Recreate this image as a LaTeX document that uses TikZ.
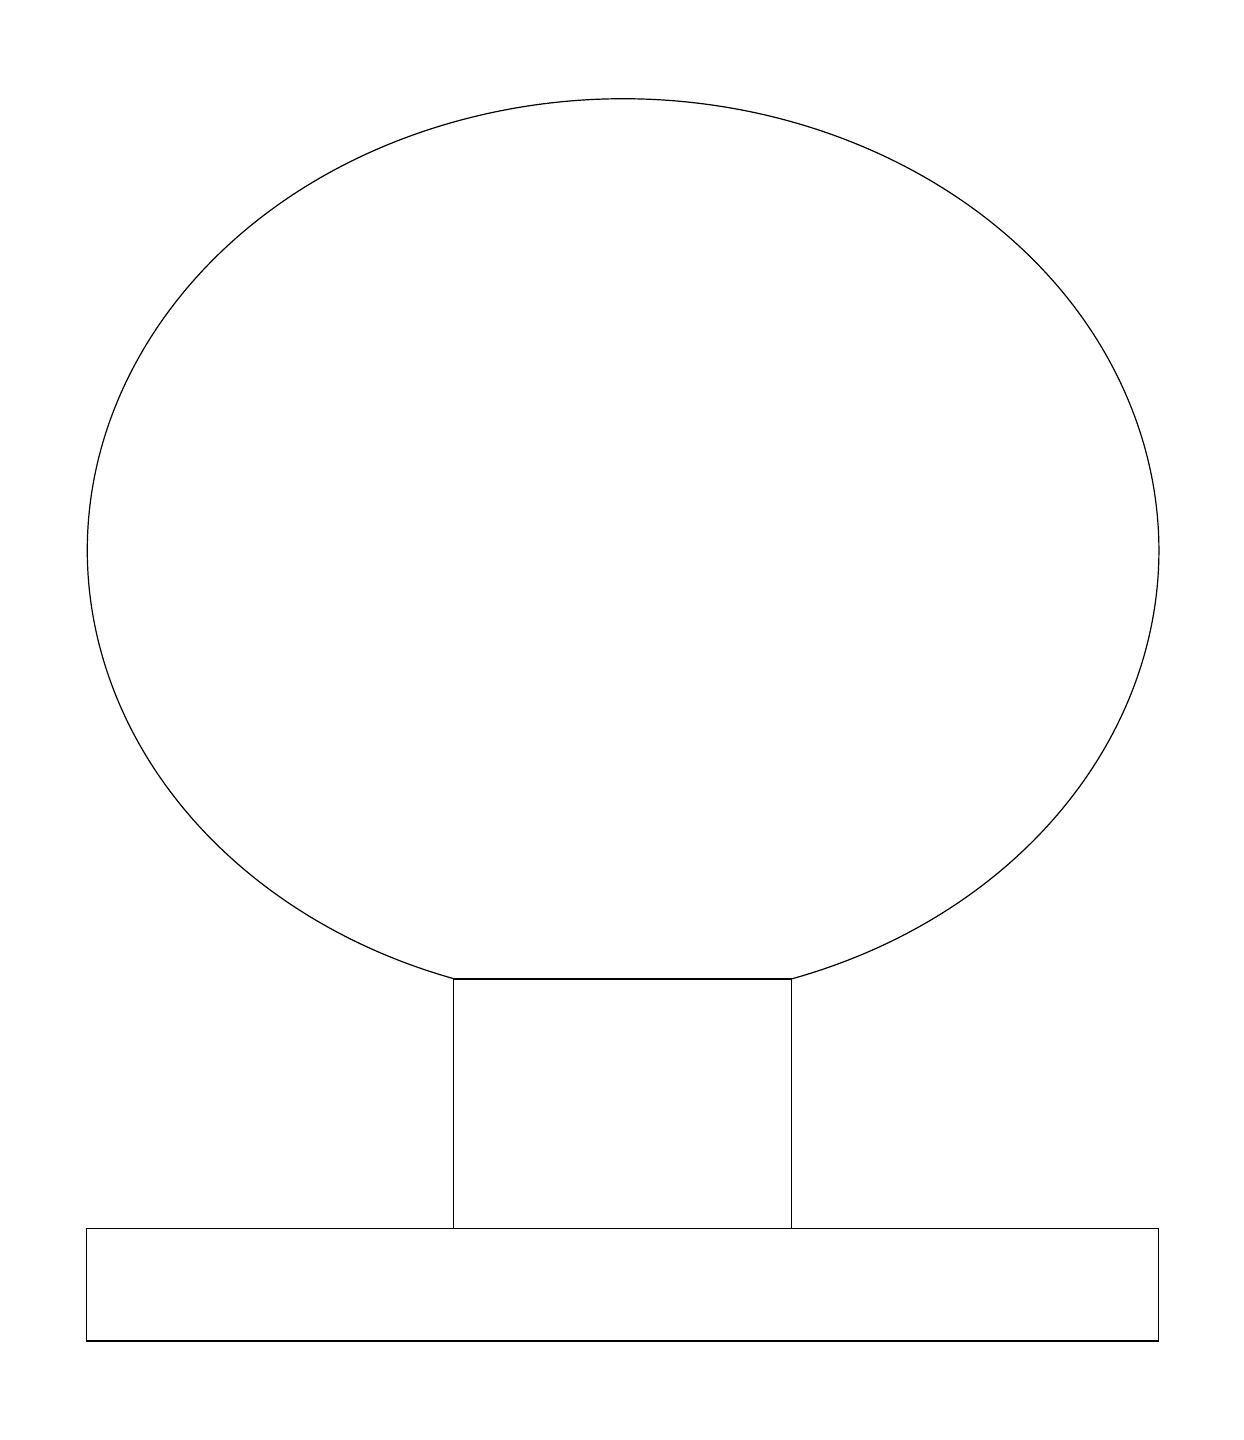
\documentclass[tikz,border=0pt]{standalone}
\begin{document}
\begin{tikzpicture}[x=0.5pt,y=0.5pt,outline/.style={draw=black,line width=0.6pt}]
\useasboundingbox (0,0) rectangle (1243,1440);
% neck corners
\coordinate (nl) at (453.3,461);
\coordinate (nr) at (791.3,461);
% ellipse head (clipped at the neck)
\draw[outline] (nr) arc[start angle=-71.7,end angle=251.7,x radius=535.7,y radius=451.5];
% neck
\draw[outline] (453.3,211.3) rectangle (nr);
% base
\draw[outline] (86.3,99) rectangle (1158.3,211.3);
\end{tikzpicture}
\end{document}
